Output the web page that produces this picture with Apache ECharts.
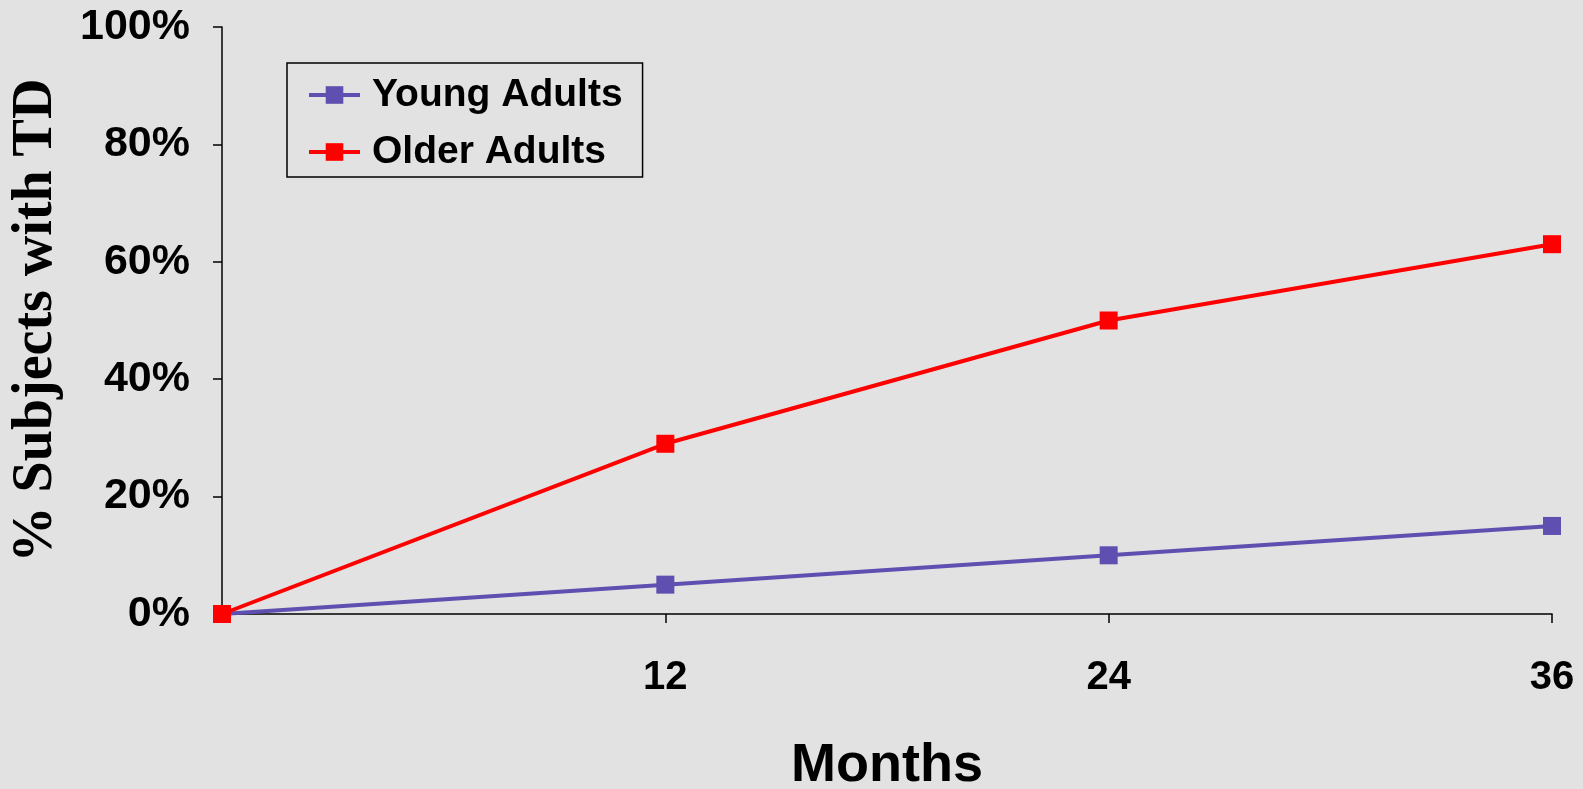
<!DOCTYPE html>
<html><head><meta charset="utf-8">
<script src="https://cdn.jsdelivr.net/npm/echarts@6/dist/echarts.min.js"></script>
<style>html,body{margin:0;padding:0;background:#e2e2e2}#c{width:1583px;height:789px}</style>
</head><body><div id="c"></div>
<script>
const months = [0, 12, 24, 36];
const youngAdults = [0, 5, 10, 15];
const olderAdults = [0, 29, 50, 63];
const yTicks = [0, 20, 40, 60, 80, 100];
const seriesNames = ['Young Adults', 'Older Adults'];

const chart = echarts.init(document.getElementById('c'));
const bold = {fontFamily: 'Liberation Sans, Arial', fontWeight: 'bold', color: '#000'};
chart.setOption({
  backgroundColor: '#e2e2e2',
  animation: false,
  grid: {left: 222, right: 31, top: 27, bottom: 175, outerBoundsMode: 'none', containLabel: false},
  legend: {
    left: 287, top: 63, orient: 'vertical',
    data: seriesNames,
    itemWidth: 51, itemHeight: 22, itemGap: 17,
    padding: [12, 20, 5, 20],
    borderColor: '#000', borderWidth: 1.5,
    lineStyle: {width: 4},
    textStyle: Object.assign({fontSize: 39, lineHeight: 40, padding: [0, 0, 0, 7]}, bold)
  },
  xAxis: {
    type: 'value', min: 0, max: 36, interval: 12,
    name: 'Months', nameLocation: 'middle', nameGap: 125,
    nameTextStyle: Object.assign({fontSize: 54}, bold),
    axisLine: {lineStyle: {color: '#000', width: 1.5}},
    axisTick: {show: true, length: 9, lineStyle: {color: '#000', width: 1.5}},
    splitLine: {show: false},
    axisLabel: Object.assign({fontSize: 40, margin: 44,
      formatter: v => v === 0 ? '' : String(v)}, bold)
  },
  yAxis: {
    type: 'value', min: 0, max: 100, interval: 20,
    name: '% Subjects with TD', nameLocation: 'middle', nameRotate: 90, nameGap: 157,
    nameTextStyle: {fontFamily: 'Liberation Serif, Times New Roman', fontWeight: 'bold', fontSize: 56, color: '#000'},
    axisLine: {show: true, lineStyle: {color: '#000', width: 1.5}},
    axisTick: {show: true, length: 9, lineStyle: {color: '#000', width: 1.5}},
    splitLine: {show: false},
    axisLabel: Object.assign({fontSize: 43, margin: 32, formatter: v => v + '%'}, bold)
  },
  series: [
    {name: seriesNames[0], type: 'line', data: months.map((m, i) => [m, youngAdults[i]]),
     symbol: 'rect', symbolSize: 18, itemStyle: {color: '#5f4fb0'},
     lineStyle: {color: '#5f4fb0', width: 4}, z: 2},
    {name: seriesNames[1], type: 'line', data: months.map((m, i) => [m, olderAdults[i]]),
     symbol: 'rect', symbolSize: 18, itemStyle: {color: '#ff0000'},
     lineStyle: {color: '#ff0000', width: 4}, z: 3}
  ]
});
</script></body></html>
